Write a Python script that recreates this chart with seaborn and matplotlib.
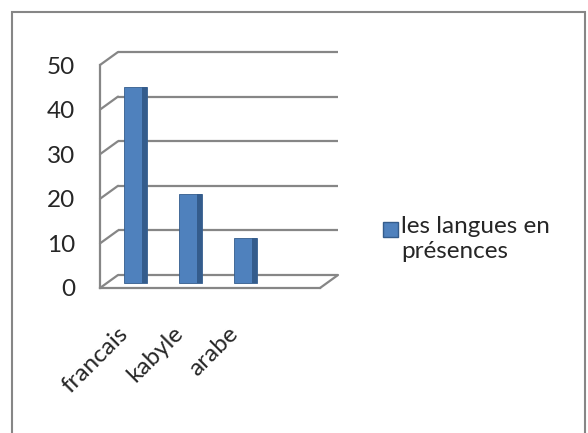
import matplotlib
matplotlib.use('Agg')
import numpy as np
import pandas as pd
import matplotlib.pyplot as plt
import matplotlib.transforms as mtransforms
from matplotlib.patches import Rectangle, Polygon, Patch
from matplotlib.legend_handler import HandlerPatch
import seaborn as sns

# donnees
langues = ['francais', 'kabyle', 'arabe']
valeurs = [44, 20, 10]
serie = 'les langues en\nprésences'
graduations = [0, 10, 20, 30, 40, 50]

bleu = '#4F81BD'
bleu_fonce = '#345C8C'
gris = '#868686'
taille = 17.5

sns.set_style('white')
plt.rcParams['font.family'] = ['Lato', 'DejaVu Sans']

fig = plt.figure(figsize=(5.88, 4.33), dpi=100)
ax = fig.add_axes([100 / 588, (433 - 288) / 433, 220 / 588, 223 / 433])

df = pd.DataFrame({'langue': langues, 'valeur': valeurs})
sns.barplot(data=df, x='langue', y='valeur', color=bleu, width=0.42,
            saturation=1, ax=ax, zorder=3)

# decalage en profondeur (effet 3D d'Excel)
fond = mtransforms.offset_copy(ax.transData, fig=fig, x=18, y=13, units='dots')
milieu = mtransforms.offset_copy(ax.transData, fig=fig, x=8, y=5, units='dots')

# face laterale plus sombre des barres
for p in list(ax.patches):
    p.set_transform(milieu)
    p.set_edgecolor(bleu_fonce)
    p.set_linewidth(0.6)
    x1 = p.get_x() + p.get_width()
    lw = p.get_width() * 0.22
    h = p.get_height()
    cote = Polygon([(x1 - lw, 0), (x1, 0), (x1, h), (x1 - lw, h)], closed=True,
                   facecolor=bleu_fonce, edgecolor='none', transform=milieu, zorder=4)
    ax.add_patch(cote)

ax.set_xlim(-0.5, 3.5)
ax.set_ylim(0, 50)
ax.set_yticks(graduations)

# mur du fond
ax.hlines(graduations, -0.5, 3.5, transform=fond, colors=gris, lw=1.6,
          clip_on=False, zorder=1)
for g in graduations:
    ax.annotate('', xy=(-0.5, g), xytext=(18, 13), textcoords='offset pixels',
                arrowprops=dict(arrowstyle='-', color=gris, lw=1.6, shrinkA=0, shrinkB=0),
                annotation_clip=False)
ax.annotate('', xy=(3.5, 0), xytext=(18, 13), textcoords='offset pixels',
            arrowprops=dict(arrowstyle='-', color=gris, lw=1.6, shrinkA=0, shrinkB=0),
            annotation_clip=False)

ax.grid(False)
for s in ['top', 'right']:
    ax.spines[s].set_visible(False)
for s in ['left', 'bottom']:
    ax.spines[s].set_color(gris)
    ax.spines[s].set_linewidth(1.6)

ax.set_xticks(np.arange(-0.5, 4, 1), minor=True)
ax.tick_params(axis='x', which='minor', length=6, width=1.6, color=gris, direction='out')
ax.tick_params(axis='x', which='major', length=0, pad=25, labelsize=taille, labelrotation=45)
ax.tick_params(axis='y', length=7, width=1.6, color=gris, pad=11, labelsize=taille)
decale = mtransforms.ScaledTranslation(5 / 100, 0, fig.dpi_scale_trans)
for lbl in ax.get_xticklabels():
    lbl.set_ha('right')
    lbl.set_va('top')
    lbl.set_transform(lbl.get_transform() + decale)
ax.set_xlabel('')
ax.set_ylabel('')


# legende : carre aligne sur la premiere ligne du texte
def carre_haut(legend, orig_handle, xdescent, ydescent, width, height, fontsize):
    return Rectangle((-xdescent, -ydescent + height - width - 1), width, width)


poignee = Patch(facecolor=bleu, edgecolor=bleu_fonce)
fig.legend([poignee], [serie], loc='center left',
           bbox_to_anchor=(383 / 588, 1 - 239 / 433), frameon=False, fontsize=taille,
           handlelength=0.6, handleheight=2.0, handletextpad=0.15,
           borderpad=0, borderaxespad=0,
           handler_map={Patch: HandlerPatch(patch_func=carre_haut)})

# cadre du graphique
fig.add_artist(Rectangle((12 / 588, -0.1), (585 - 12) / 588, 1.1 - 12 / 433,
                         transform=fig.transFigure, fill=False, edgecolor=gris, lw=1.5))

fig.savefig('out.png', dpi=100)
